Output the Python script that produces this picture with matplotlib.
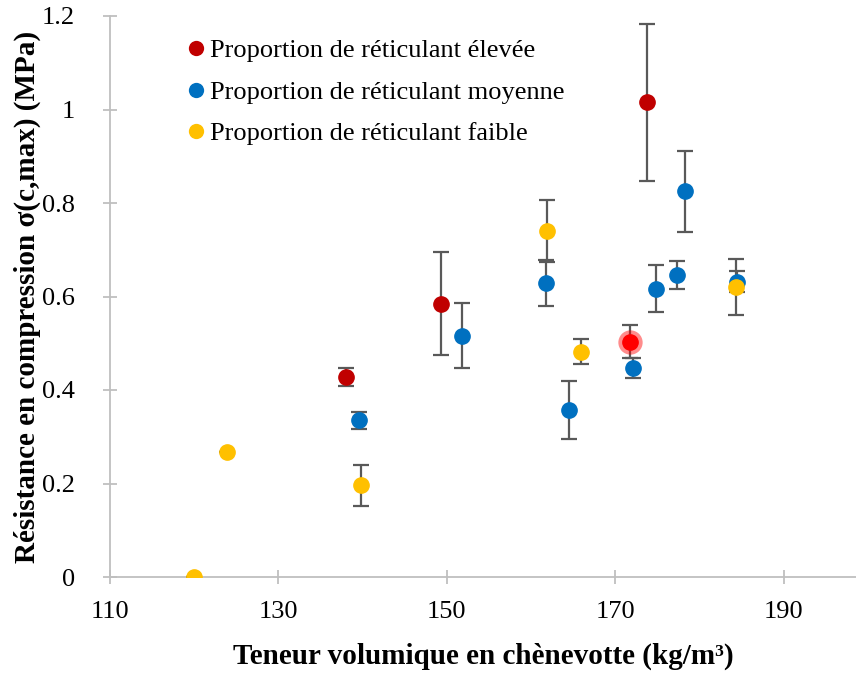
import matplotlib
matplotlib.use("Agg")
import matplotlib.pyplot as plt
from matplotlib.lines import Line2D

plt.rcParams['font.family'] = ['Liberation Serif', 'DejaVu Serif']

# Proportion de réticulant élevée
x_high = [138.0, 149.3, 173.8]
y_high = [0.427, 0.585, 1.015]
e_high = [0.019, 0.110, 0.168]

# point sélectionné (mis en évidence)
x_sel = [171.8]
y_sel = [0.503]
e_sel = [0.035]

# Proportion de réticulant moyenne
x_mid = [139.6, 151.8, 161.8, 164.5, 172.1, 174.9, 177.3, 178.3, 184.5]
y_mid = [0.335, 0.516, 0.629, 0.358, 0.447, 0.617, 0.646, 0.825, 0.632]
e_mid = [0.018, 0.070, 0.050, 0.062, 0.022, 0.050, 0.030, 0.087, 0.022]

# Proportion de réticulant faible
x_low = [120.0, 123.9, 139.8, 161.9, 165.9, 184.3]
y_low = [0.0, 0.268, 0.196, 0.740, 0.482, 0.620]
e_low = [0.0, 0.0, 0.044, 0.066, 0.027, 0.060]

labels = ["Proportion de réticulant élevée",
          "Proportion de réticulant moyenne",
          "Proportion de réticulant faible"]
colors = ["#C00000", "#0070C0", "#FFC000"]

fig = plt.figure(figsize=(8.56, 6.75), dpi=100)
ax = fig.add_axes([110 / 856, 1 - 577 / 675, 746 / 856, 561 / 675])

err_kw = dict(fmt='o', ms=11, ecolor='#595959', elinewidth=1.6,
              capsize=5.5, capthick=1.6)

ax.errorbar(x_high, y_high, yerr=e_high, color=colors[0], mec=colors[0], **err_kw)
ax.errorbar(x_sel, y_sel, yerr=e_sel, color='#FF0000', mec='#FF0000', **err_kw)
ax.plot(x_sel, y_sel, 'o', ms=17.5, color='#FF0000', alpha=0.45, mew=0)
ax.errorbar(x_mid, y_mid, yerr=e_mid, color=colors[1], mec=colors[1], **err_kw)
ax.errorbar(x_low, y_low, yerr=e_low, color=colors[2], mec=colors[2], **err_kw)

ax.set_xlim(110, 110 + 746 / 8.42)
ax.set_ylim(0, 1.2)
ax.set_xticks([110, 130, 150, 170, 190])
ax.set_yticks([0, 0.2, 0.4, 0.6, 0.8, 1.0, 1.2])
ax.set_yticklabels(["0", "0.2", "0.4", "0.6", "0.8", "1", "1.2"])

for side in ['top', 'right']:
    ax.spines[side].set_visible(False)
for side in ['left', 'bottom']:
    ax.spines[side].set_color('#BFBFBF')
    ax.spines[side].set_linewidth(1.3)
    ax.spines[side].set_zorder(0)
ax.tick_params(direction='inout', length=10, width=1.3, color='#BFBFBF',
               labelsize=19, labelcolor='black')
ax.tick_params(axis='y', pad=20)
ax.tick_params(axis='x', pad=12)
ax.set_axisbelow(True)

ax.set_xlabel("Teneur volumique en chènevotte (kg/m³)", fontsize=21,
              fontweight='bold')
ax.set_ylabel("Résistance en compression σ(c,max) (MPa)", fontsize=21,
              fontweight='bold')
ax.xaxis.set_label_coords(0.5, (577 - 643) / 561)
ax.yaxis.set_label_coords((41 - 110) / 746, 0.5)

handles = [Line2D([], [], ls='none', marker='o', ms=11, mew=0, color=c)
           for c in colors]
ax.legend(handles, labels, loc='upper left', bbox_to_anchor=(0.083, 0.978),
          frameon=False, fontsize=19, handletextpad=0.05,
          handlelength=1.0, labelspacing=0.68, borderaxespad=0)

fig.savefig("out.png", dpi=100)
